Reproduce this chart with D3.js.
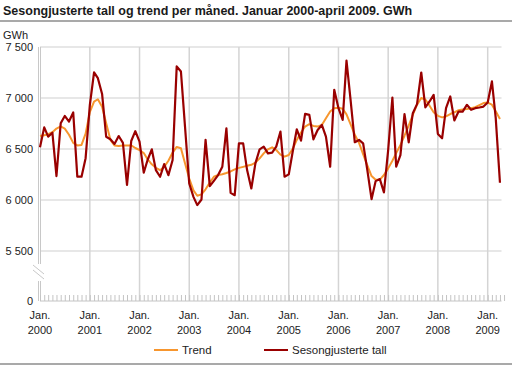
<!DOCTYPE html>
<html><head><meta charset="utf-8">
<script src="https://cdn.jsdelivr.net/npm/d3@7"></script>
<style>body{margin:0;background:#fff}svg{display:block;font-family:"Liberation Sans",Arial,sans-serif}</style>
</head><body><svg id="c" width="512" height="369"></svg>
<script>
const title = "Sesongjusterte tall og trend per måned. Januar 2000-april 2009. GWh";
const unit = "GWh";
const startYear = 2000;
const yearLabels = ["2000","2001","2002","2003","2004","2005","2006","2007","2008","2009"];
const yTicks = [0, 5500, 6000, 6500, 7000, 7500];
const seriesNames = ["Trend", "Sesongjusterte tall"];
const seasonal = [
 6517,6712,6621,6660,6235,6752,6824,6769,6858,6229,6229,6410,
 6930,7252,7194,7040,6620,6595,6550,6627,6560,6147,6578,6675,
 6572,6268,6392,6497,6293,6228,6352,6244,6392,7310,7260,6720,
 6162,6031,5950,6005,6589,6136,6188,6244,6326,6703,6070,6047,
 6556,6556,6293,6113,6359,6497,6523,6457,6464,6523,6670,6228,
 6251,6490,6693,6582,6844,6834,6595,6687,6736,6621,6326,7080,
 6900,6785,7366,6966,6566,6589,6556,6293,6008,6185,6205,6074,
 6490,7005,6326,6441,6841,6566,6851,6940,7250,6907,6966,7031,
 6648,6605,6900,7015,6780,6867,6867,6933,6884,6900,6907,6916,
 6956,7163,6802,6169];
const trend = [
 6628,6635,6645,6665,6700,6722,6700,6640,6560,6535,6540,6650,
 6862,6964,6988,6915,6752,6590,6535,6530,6535,6535,6535,6510,
 6490,6460,6400,6350,6315,6292,6325,6385,6465,6520,6507,6360,
 6210,6095,6042,6055,6105,6170,6228,6245,6252,6265,6280,6300,
 6315,6325,6335,6345,6366,6408,6457,6497,6516,6490,6445,6425,
 6441,6507,6589,6661,6720,6743,6726,6720,6736,6802,6867,6900,
 6905,6895,6840,6740,6640,6560,6450,6340,6235,6198,6200,6245,
 6310,6385,6460,6540,6630,6730,6835,6935,7000,6985,6925,6860,
 6825,6810,6820,6843,6860,6880,6888,6893,6900,6910,6930,6950,
 6955,6935,6870,6794];

const svg = d3.select("#c");
const L = 40, R = 501.5, T = 47, B = 301;
const x = d3.scaleTime().domain([new Date(2000,0,1), new Date(2009,0,1)]).range([40, 487.7]);
const y = d3.scaleLinear().domain([0, 5500, 7500]).range([B, 251, T]);
const dates = seasonal.map((d,i)=>new Date(startYear, i, 1));

// title
svg.append("text").attr("x",3).attr("y",15).attr("font-size",12.5).attr("font-weight","bold").attr("fill","#1a1a1a").text(title);
svg.append("line").attr("x1",0).attr("x2",512).attr("y1",21).attr("y2",21).attr("stroke","#8c8c8c").attr("stroke-width",1.5);
svg.append("line").attr("x1",0).attr("x2",512).attr("y1",364).attr("y2",364).attr("stroke","#8c8c8c").attr("stroke-width",1.5);

// unit
svg.append("text").attr("x",3).attr("y",39).attr("font-size",11).attr("fill","#222").text(unit);

// horizontal gridlines (not 0)
svg.append("g").selectAll("line").data(yTicks.filter(d=>d>0)).join("line")
  .attr("x1",L).attr("x2",R).attr("y1",d=>y(d)).attr("y2",d=>y(d))
  .attr("stroke","#cfcfcf").attr("stroke-width",1);

// vertical gridlines at each January
const years = d3.range(yearLabels.length).map(i=>new Date(startYear+i,0,1));
svg.append("g").selectAll("line").data(years.slice(1)).join("line")
  .attr("x1",d=>x(d)).attr("x2",d=>x(d)).attr("y1",T).attr("y2",B)
  .attr("stroke","#d4d4d4").attr("stroke-width",1.5);

// left axis with break
const ax = svg.append("g").attr("stroke","#c8c8c8").attr("stroke-width",1);
[38.5,40.5].forEach(px=>{
  ax.append("line").attr("x1",px).attr("x2",px).attr("y1",T).attr("y2",264);
  ax.append("line").attr("x1",px).attr("x2",px).attr("y1",281).attr("y2",B);
});
ax.append("line").attr("x1",33).attr("x2",44).attr("y1",265).attr("y2",274);
ax.append("line").attr("x1",33).attr("x2",44).attr("y1",270).attr("y2",279);

// bottom axis: monthly minor ticks
const months = d3.timeMonth.range(new Date(2000,0,1), new Date(2009,4,2));
const xa = d3.axisBottom(x).tickValues(months).tickSize(-6).tickFormat("");
const gx = svg.append("g").attr("transform",`translate(0,${B})`).call(xa);
gx.select(".domain").remove();
gx.selectAll(".tick line").attr("stroke","#c4c4c4");
svg.append("line").attr("x1",L).attr("x2",R).attr("y1",B).attr("y2",B).attr("stroke","#c4c4c4");

// x labels
const lab = svg.append("g").attr("font-size",11).attr("fill","#222").attr("text-anchor","middle");
years.forEach((d,i)=>{
  lab.append("text").attr("x",x(d)).attr("y",319).text("Jan.");
  lab.append("text").attr("x",x(d)).attr("y",334).text(yearLabels[i]);
});

// y labels
const fmt = v => v===0 ? "0" : d3.format(",")(v).replace(",", " ");
svg.append("g").attr("font-size",11).attr("fill","#222").attr("text-anchor","end")
  .selectAll("text").data(yTicks).join("text")
  .attr("x",33).attr("y",d=>y(d)+4).text(fmt);

// lines
const line = d3.line().x((d,i)=>x(dates[i])).y(d=>y(d));
svg.append("path").datum(trend).attr("d",line).attr("fill","none").attr("stroke","#f7962e").attr("stroke-width",2).attr("stroke-linejoin","round");
svg.append("path").datum(seasonal).attr("d",line).attr("fill","none").attr("stroke","#990000").attr("stroke-width",2.2).attr("stroke-linejoin","round");

// legend
const lg = svg.append("g").attr("font-size",11.5).attr("fill","#222");
lg.append("line").attr("x1",154).attr("x2",178).attr("y1",350).attr("y2",350).attr("stroke","#f7962e").attr("stroke-width",2);
lg.append("text").attr("x",182).attr("y",354).text(seriesNames[0]);
lg.append("line").attr("x1",264).attr("x2",288).attr("y1",350).attr("y2",350).attr("stroke","#990000").attr("stroke-width",2);
lg.append("text").attr("x",292).attr("y",354).text(seriesNames[1]);
</script></body></html>
